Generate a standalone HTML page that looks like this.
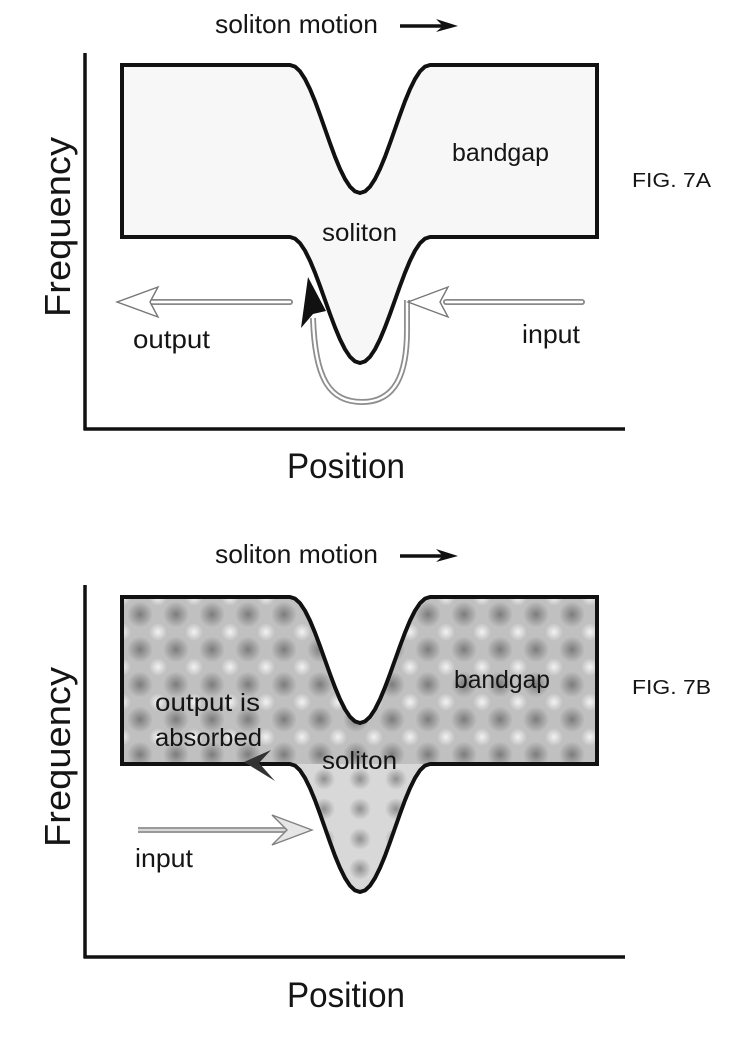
<!DOCTYPE html>
<html><head><meta charset="utf-8"><style>
html,body{margin:0;padding:0;background:#fff;}
svg{display:block;}
text{font-family:"Liberation Sans",Arial,sans-serif;fill:#151515;}
</style></head><body>
<svg width="746" height="1050" viewBox="0 0 746 1050" xmlns="http://www.w3.org/2000/svg">
<defs>
  <radialGradient id="gd"><stop offset="0" stop-color="#7c7c7c" stop-opacity="1"/><stop offset="1" stop-color="#7c7c7c" stop-opacity="0"/></radialGradient>
  <radialGradient id="gl"><stop offset="0" stop-color="#f2f2f2" stop-opacity="1"/><stop offset="1" stop-color="#f2f2f2" stop-opacity="0"/></radialGradient>
  <radialGradient id="gd2"><stop offset="0" stop-color="#909090" stop-opacity="1"/><stop offset="1" stop-color="#909090" stop-opacity="0"/></radialGradient>
  <pattern id="p1" x="122" y="597" width="36" height="35" patternUnits="userSpaceOnUse">
    <rect width="36" height="35" fill="#c0c0c0"/>
    <circle cx="18" cy="17.5" r="13" fill="url(#gd)"/>
    <circle cx="0" cy="0" r="9" fill="url(#gl)"/>
    <circle cx="36" cy="0" r="9" fill="url(#gl)"/>
    <circle cx="0" cy="35" r="9" fill="url(#gl)"/>
    <circle cx="36" cy="35" r="9" fill="url(#gl)"/>
  </pattern>
  <pattern id="p2" x="342" y="764" width="36" height="30" patternUnits="userSpaceOnUse">
    <rect width="36" height="30" fill="#d8d8d8"/>
    <circle cx="18" cy="15" r="11" fill="url(#gd2)"/>
  </pattern>
</defs>

<!-- ================= FIG 7A ================= -->
<text x="215" y="33" font-size="26" textLength="163" lengthAdjust="spacingAndGlyphs">soliton motion</text>
<line x1="400" y1="26" x2="446" y2="26" stroke="#111" stroke-width="3.5"/>
<polygon points="436,19 458,26 436,32 443,26" fill="#111"/>

<!-- region fill -->
<polygon fill="#f7f7f7" points="122,65 290,65 295,66.6 300,71.3 305,79 310,89.1 315,101.2 320,114.8 325,129 330,143.2 335,156.8 340,168.9 345,179 350,186.7 355,191.4 360,193 365,191.4 370,186.7 375,179 380,168.9 385,156.8 390,143.2 395,129 400,114.8 405,101.2 410,89.1 415,79 420,71.3 425,66.6 430,65 597,65 597,237 430,237 425,238.6 420,243.2 415,250.7 410,260.7 405,272.7 400,286 395,300 390,314 385,327.3 380,339.3 375,349.3 370,356.8 365,361.4 360,363 355,361.4 350,356.8 345,349.3 340,339.3 335,327.3 330,314 325,300 320,286 315,272.7 310,260.7 305,250.7 300,243.2 295,238.6 290,237 122,237"/>

<!-- axes -->
<line x1="85" y1="53" x2="85" y2="430" stroke="#111" stroke-width="3.5"/>
<line x1="83.5" y1="429" x2="625" y2="429" stroke="#111" stroke-width="3.5"/>

<!-- box edges -->
<polyline fill="none" stroke="#111" stroke-width="4" stroke-linejoin="round" points="122,65 290,65 295,66.6 300,71.3 305,79 310,89.1 315,101.2 320,114.8 325,129 330,143.2 335,156.8 340,168.9 345,179 350,186.7 355,191.4 360,193 365,191.4 370,186.7 375,179 380,168.9 385,156.8 390,143.2 395,129 400,114.8 405,101.2 410,89.1 415,79 420,71.3 425,66.6 430,65 597,65"/>
<polyline fill="none" stroke="#111" stroke-width="4" stroke-linejoin="round" points="122,237 290,237 295,238.6 300,243.2 305,250.7 310,260.7 315,272.7 320,286 325,300 330,314 335,327.3 340,339.3 345,349.3 350,356.8 355,361.4 360,363 365,361.4 370,356.8 375,349.3 380,339.3 385,327.3 390,314 395,300 400,286 405,272.7 410,260.7 415,250.7 420,243.2 425,238.6 430,237 597,237"/>
<line x1="122" y1="63" x2="122" y2="239" stroke="#111" stroke-width="4"/>
<line x1="597" y1="63" x2="597" y2="239" stroke="#111" stroke-width="4"/>

<text x="452" y="161" font-size="25" textLength="97" lengthAdjust="spacingAndGlyphs">bandgap</text>
<text x="322" y="241" font-size="25" textLength="75" lengthAdjust="spacingAndGlyphs">soliton</text>
<text x="632" y="187" font-size="20.5" textLength="79" lengthAdjust="spacingAndGlyphs">FIG. 7A</text>

<!-- output hollow arrow -->
<line x1="150" y1="302" x2="290" y2="302" stroke="#8a8a8a" stroke-width="6" stroke-linecap="round"/>
<line x1="150" y1="302" x2="290" y2="302" stroke="#fff" stroke-width="2.4" stroke-linecap="round"/>
<polygon points="117,302 158,287 150,302 158,317" fill="#fff" stroke="#777" stroke-width="1.4" stroke-linejoin="miter"/>

<!-- input hollow arrow -->
<line x1="446" y1="302" x2="582" y2="302" stroke="#8a8a8a" stroke-width="6" stroke-linecap="round"/>
<line x1="446" y1="302" x2="582" y2="302" stroke="#fff" stroke-width="2.4" stroke-linecap="round"/>

<!-- U-shaped path -->
<path d="M407,300 L407,330 C407,375 395,402 362,402 C330,402 315,380 313,318" fill="none" stroke="#8e8e8e" stroke-width="6"/>
<path d="M407,300 L407,330 C407,375 395,402 362,402 C330,402 315,380 313,318" fill="none" stroke="#fff" stroke-width="2.4"/>
<polygon points="408,302 448,287 440,302 448,317" fill="#fff" stroke="#777" stroke-width="1.4"/>
<!-- black arrowhead -->
<polygon points="308,277 326,311 313,314 301,328" fill="#111"/>

<text x="133" y="348" font-size="26" textLength="77" lengthAdjust="spacingAndGlyphs">output</text>
<text x="522" y="343" font-size="26" textLength="58" lengthAdjust="spacingAndGlyphs">input</text>

<text transform="translate(70,227) rotate(-90)" text-anchor="middle" font-size="36" textLength="180" lengthAdjust="spacingAndGlyphs">Frequency</text>
<text x="287" y="478" font-size="35" textLength="118" lengthAdjust="spacingAndGlyphs">Position</text>

<!-- ================= FIG 7B ================= -->
<text x="215" y="563" font-size="26" textLength="163" lengthAdjust="spacingAndGlyphs">soliton motion</text>
<line x1="400" y1="556" x2="446" y2="556" stroke="#111" stroke-width="3.5"/>
<polygon points="436,549 458,556 436,562 443,556" fill="#111"/>

<!-- fills -->
<polygon fill="url(#p1)" points="122,597 290,597 295,598.6 300,603.2 305,610.7 310,620.7 315,632.7 320,646 325,660 330,674 335,687.3 340,699.3 345,709.3 350,716.8 355,721.4 360,723 365,721.4 370,716.8 375,709.3 380,699.3 385,687.3 390,674 395,660 400,646 405,632.7 410,620.7 415,610.7 420,603.2 425,598.6 430,597 597,597 597,764 122,764"/>
<polygon fill="url(#p2)" points="290,764 295,765.6 300,770.3 305,778 310,788.1 315,800.2 320,813.8 325,828 330,842.2 335,855.8 340,867.9 345,878 350,885.7 355,890.4 360,892 365,890.4 370,885.7 375,878 380,867.9 385,855.8 390,842.2 395,828 400,813.8 405,800.2 410,788.1 415,778 420,770.3 425,765.6 430,764"/>

<!-- axes -->
<line x1="85" y1="585" x2="85" y2="958" stroke="#111" stroke-width="3.5"/>
<line x1="83.5" y1="957" x2="625" y2="957" stroke="#111" stroke-width="3.5"/>

<!-- edges -->
<polyline fill="none" stroke="#111" stroke-width="4" stroke-linejoin="round" points="122,597 290,597 295,598.6 300,603.2 305,610.7 310,620.7 315,632.7 320,646 325,660 330,674 335,687.3 340,699.3 345,709.3 350,716.8 355,721.4 360,723 365,721.4 370,716.8 375,709.3 380,699.3 385,687.3 390,674 395,660 400,646 405,632.7 410,620.7 415,610.7 420,603.2 425,598.6 430,597 597,597"/>
<polyline fill="none" stroke="#111" stroke-width="4" stroke-linejoin="round" points="122,764 290,764 295,765.6 300,770.3 305,778 310,788.1 315,800.2 320,813.8 325,828 330,842.2 335,855.8 340,867.9 345,878 350,885.7 355,890.4 360,892 365,890.4 370,885.7 375,878 380,867.9 385,855.8 390,842.2 395,828 400,813.8 405,800.2 410,788.1 415,778 420,770.3 425,765.6 430,764 597,764"/>
<line x1="122" y1="595" x2="122" y2="766" stroke="#111" stroke-width="4"/>
<line x1="597" y1="595" x2="597" y2="766" stroke="#111" stroke-width="4"/>

<text x="155" y="711" font-size="25" textLength="105" lengthAdjust="spacingAndGlyphs">output is</text>
<text x="155" y="746" font-size="25" textLength="107" lengthAdjust="spacingAndGlyphs">absorbed</text>
<text x="454" y="688" font-size="25" textLength="96" lengthAdjust="spacingAndGlyphs">bandgap</text>
<text x="322" y="769" font-size="25" textLength="75" lengthAdjust="spacingAndGlyphs">soliton</text>
<text x="632" y="694" font-size="20.5" textLength="79" lengthAdjust="spacingAndGlyphs">FIG. 7B</text>

<!-- small dark arrow (absorbed output) -->
<polygon points="244,762 271,750 259,763 275,781" fill="#333"/>

<!-- input arrow 7B -->
<line x1="138" y1="830" x2="287" y2="830" stroke="#9a9a9a" stroke-width="6"/>
<line x1="138" y1="830" x2="287" y2="830" stroke="#d8d8d8" stroke-width="2"/>
<polygon points="312,830 272,815 287,830 272,845" fill="#e6e6e6" stroke="#808080" stroke-width="1.4"/>

<text x="135" y="867" font-size="26" textLength="58" lengthAdjust="spacingAndGlyphs">input</text>

<text transform="translate(70,757) rotate(-90)" text-anchor="middle" font-size="36" textLength="180" lengthAdjust="spacingAndGlyphs">Frequency</text>
<text x="287" y="1007" font-size="35" textLength="118" lengthAdjust="spacingAndGlyphs">Position</text>
</svg>
</body></html>
